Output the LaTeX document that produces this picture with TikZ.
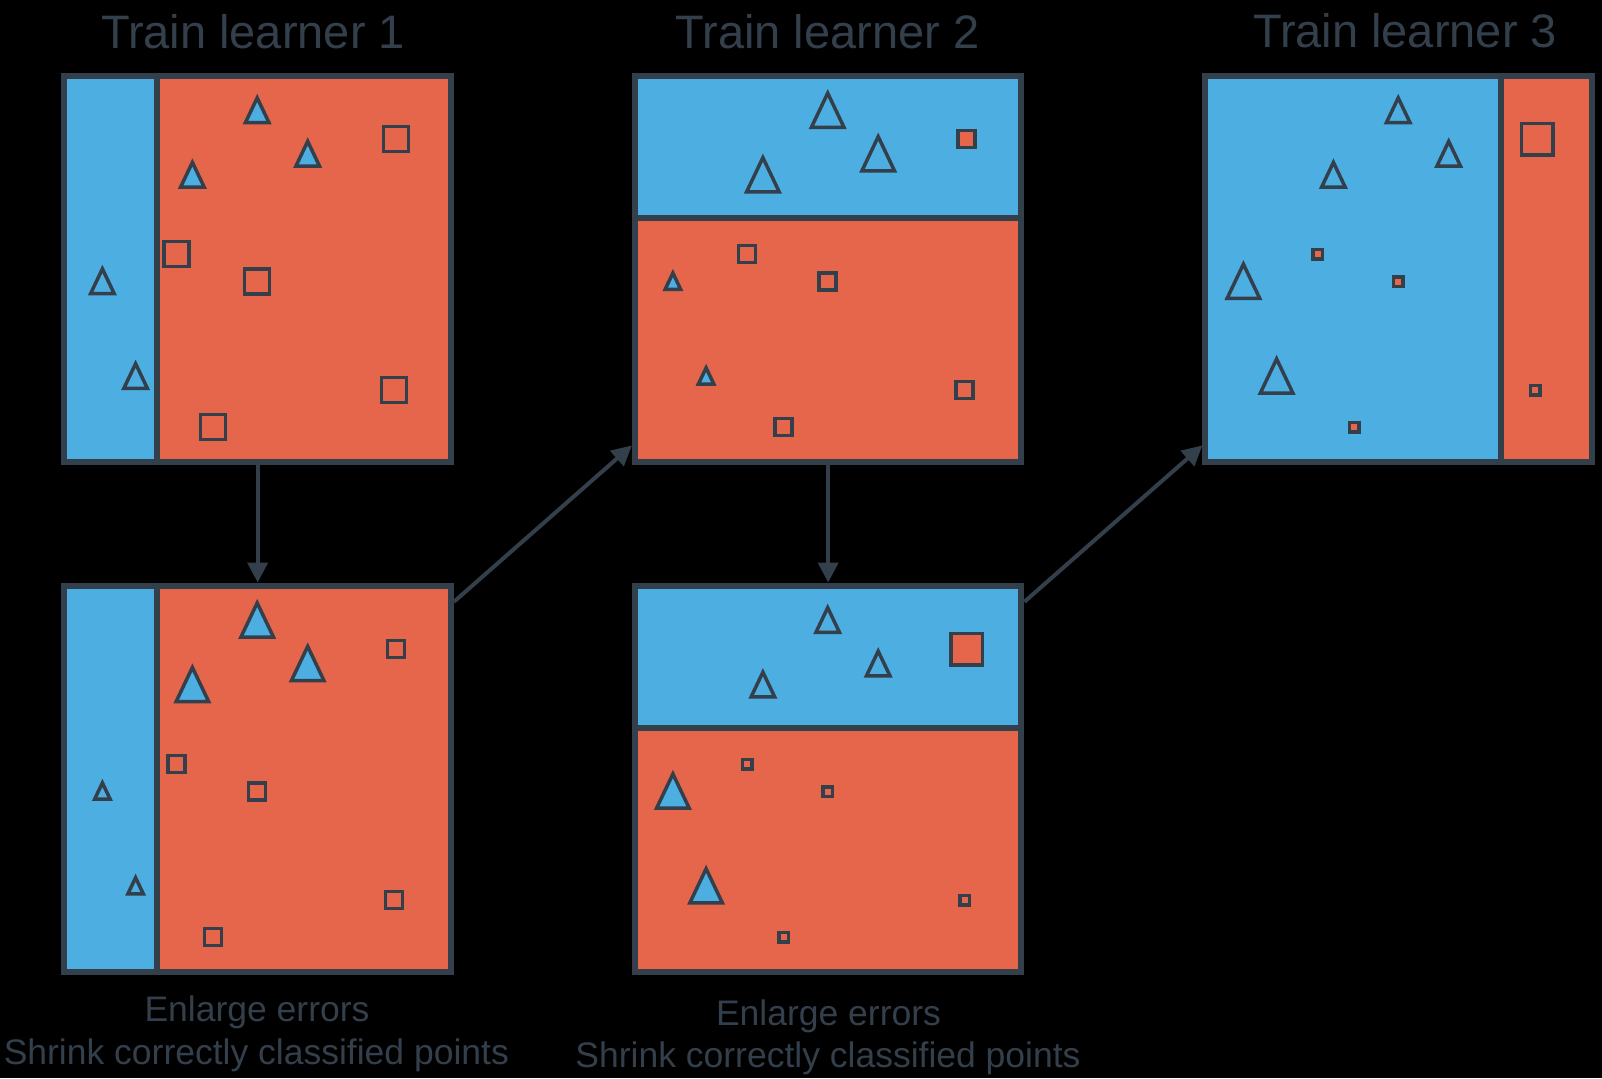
\documentclass[tikz,border=0pt]{standalone}
\usepackage{fontspec}
\setmainfont{Liberation Sans}
\usetikzlibrary{arrows.meta,calc}
\definecolor{cblue}{RGB}{77,174,226}
\definecolor{cred}{RGB}{229,102,74}
\definecolor{cdark}{RGB}{52,63,76}
\tikzset{
  frame/.style={draw=cdark, line width=6pt, minimum width=386.5pt, minimum height=386pt, inner sep=0pt},
  divider/.style={draw=cdark, line width=6pt},
  ptshape/.style={draw=cdark, line width=3.5pt, line join=miter},
  flow/.style={draw=cdark, line width=4pt, -{Triangle[length=20pt,width=20pt]}},
  titletext/.style={text=cdark, font=\fontsize{47}{56}\selectfont, anchor=base, inner sep=0pt},
  captext/.style={text=cdark, font=\fontsize{35.5}{42.5}\selectfont, anchor=base, inner sep=0pt},
}
\newcommand\mytri[3]{\filldraw[ptshape, fill=cblue] ({#1-#3/2},{#2+1+0.525*#3}) -- (#1,{#2+1-0.525*#3}) -- ({#1+#3/2},{#2+1+0.525*#3}) -- cycle;}
\newcommand\mysq[3]{\filldraw[ptshape, fill=cred] ({#1-#3/2},{#2-#3/2}) rectangle ({#1+#3/2},{#2+#3/2});}
\newcommand\mypoints[4]{%
  \mytri{192.8}{33.5}{#1}\mytri{243.3}{77}{#1}\mytri{128}{98}{#1}%
  \mytri{38}{204.5}{#2}\mytri{71.2}{299.3}{#2}%
  \mysq{331.8}{63.5}{#3}%
  \mysq{112.2}{178.5}{#4}\mysq{192.8}{206}{#4}\mysq{329.7}{314.5}{#4}\mysq{148.7}{351.5}{#4}}
\begin{document}
\begin{tikzpicture}[x=1pt,y=-1pt]
\useasboundingbox (0,0) rectangle (1602,1078);
\fill[black] (0,0) rectangle (1602,1078);
% learner 1, top
\begin{scope}[shift={(64.4,75.7)}]
  \fill[cblue] (0,0) rectangle (92.6,386);
  \fill[cred] (92.6,0) rectangle (386.5,386);
  \draw[divider] (92.6,0) -- (92.6,386);
  \mypoints{23.5}{23.5}{25}{25}
  \node[frame] (b1) at (193.25,193) {};
\end{scope}
% learner 1, bottom
\begin{scope}[shift={(64.4,585.5)}]
  \fill[cblue] (0,0) rectangle (92.6,386);
  \fill[cred] (92.6,0) rectangle (386.5,386);
  \draw[divider] (92.6,0) -- (92.6,386);
  \mypoints{32.5}{15.5}{17}{17}
  \node[frame] (b1b) at (193.25,193) {};
\end{scope}
% learner 2, top
\begin{scope}[shift={(634.9,75.7)}]
  \fill[cblue] (0,0) rectangle (386.5,142.7);
  \fill[cred] (0,142.7) rectangle (386.5,386);
  \draw[divider] (0,142.7) -- (386.5,142.7);
  \mypoints{32.5}{15.5}{17}{17}
  \node[frame] (b2) at (193.25,193) {};
\end{scope}
% learner 2, bottom
\begin{scope}[shift={(634.9,585.5)}]
  \fill[cblue] (0,0) rectangle (386.5,142.7);
  \fill[cred] (0,142.7) rectangle (386.5,386);
  \draw[divider] (0,142.7) -- (386.5,142.7);
  \mypoints{23.5}{32.5}{31.5}{9.5}
  \node[frame] (b2b) at (193.25,193) {};
\end{scope}
% learner 3, top
\begin{scope}[shift={(1205.4,75.7)}]
  \fill[cblue] (0,0) rectangle (295.8,386);
  \fill[cred] (295.8,0) rectangle (386.5,386);
  \draw[divider] (295.8,0) -- (295.8,386);
  \mypoints{23.5}{32.5}{31.5}{9.5}
  \node[frame] (b3) at (193.25,193) {};
\end{scope}
% connectors
\draw[flow] (b1.south) -- (b1b.north);
\draw[flow] (b1b.42) -- (b2.222);
\draw[flow] (b2.south) -- (b2b.north);
\draw[flow] (b2b.42) -- (b3.222);
% texts
\node[titletext] (t1) at (253,48.3) {Train learner 1};
\node[titletext] (t2) at (827.5,48.3) {Train learner 2};
\node[titletext] (t3) at (1405,47.7) {Train learner 3};
\node[captext] (c1a) at (257,1021.7) {Enlarge errors};
\node[captext] (c1b) at (256.3,1064) {Shrink correctly classified points};
\node[captext] (c2a) at (828.5,1025) {Enlarge errors};
\node[captext] (c2b) at (828,1067.3) {Shrink correctly classified points};
\end{tikzpicture}
\end{document}
